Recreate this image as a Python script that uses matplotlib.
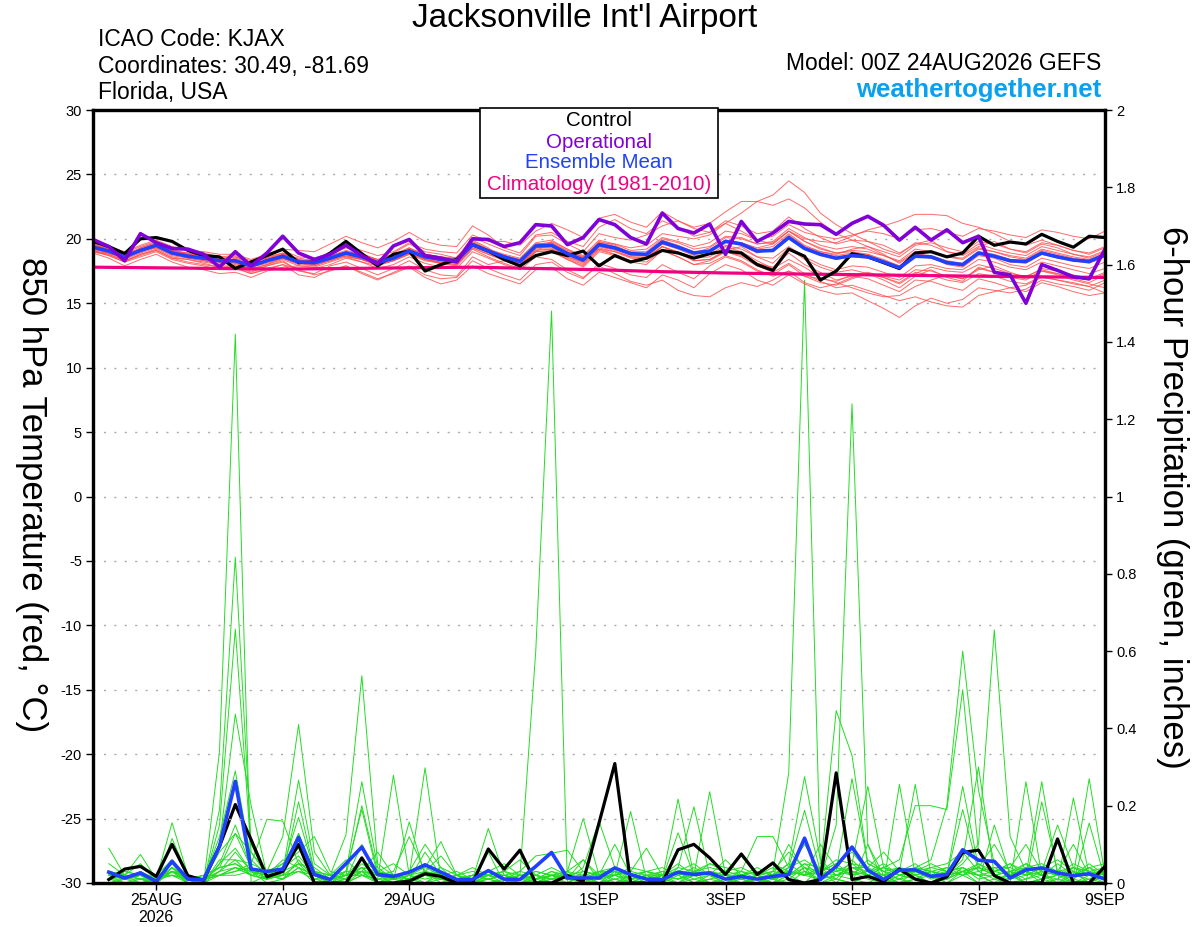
import pandas as pd
import matplotlib
matplotlib.use("Agg")
import matplotlib.pyplot as plt
from matplotlib.patches import Rectangle

plt.rcParams['font.family'] = ['Liberation Sans', 'DejaVu Sans']
plt.rcParams['axes.unicode_minus'] = False

# times: 6-hourly temperatures from 00Z 24AUG, precip totals from 06Z
t_temp = pd.date_range('2026-08-24 00:00', periods=65, freq='6h')
t_prcp = t_temp[1:]
t_clim = pd.date_range('2026-08-24', periods=17, freq='D')

clim_temp = [17.8, 17.75, 17.7, 17.65, 17.7, 17.75, 17.8, 17.7, 17.6,
             17.45, 17.35, 17.28, 17.22, 17.16, 17.1, 17.05, 17.0]

ctrl_temp = [19.8, 19.4, 18.85, 20.0, 20.1, 19.8, 19.1, 18.7, 18.6, 17.7, 18.2, 18.7, 19.2,
             18.15, 18.2, 18.9, 19.8, 18.85, 17.9, 18.8, 19.05, 17.5, 18.0, 18.4, 19.55, 19.05,
             18.4, 17.9, 18.7, 19.0, 18.7, 19.05, 17.9, 18.7, 18.2, 18.5, 19.1, 18.9, 18.5,
             18.85, 19.05, 18.9, 18.0, 17.55, 19.2, 18.65, 16.8, 17.5, 18.85, 18.6, 18.15, 17.7,
             18.9, 19.0, 18.6, 18.9, 20.2, 19.5, 19.75, 19.6, 20.35, 19.8, 19.35, 20.2, 20.1]

oper_temp = [19.95, 19.4, 18.3, 20.4, 19.7, 19.25, 19.2, 18.8, 17.8, 19.0, 17.9, 18.9, 20.2,
             18.9, 18.4, 18.8, 19.5, 18.7, 18.05, 19.45, 19.95, 18.7, 18.5, 18.2, 20.0, 19.95,
             19.4, 19.7, 21.1, 21.0, 19.55, 20.1, 21.5, 21.1, 20.1, 19.6, 22.0, 20.8, 20.45,
             21.15, 18.8, 21.35, 19.8, 20.45, 21.35, 21.15, 21.1, 20.35, 21.2, 21.75, 21.05, 19.9,
             20.9, 19.9, 20.7, 19.7, 20.2, 17.4, 17.2, 15.0, 18.0, 17.55, 17.05, 16.9, 19.2]

mean_temp = [19.35, 19.05, 18.6, 19.1, 19.5, 18.9, 18.65, 18.5, 18.3, 18.3, 17.9, 18.3, 18.65,
             18.2, 18.15, 18.5, 18.9, 18.6, 18.15, 18.5, 19.05, 18.6, 18.4, 18.3, 19.55, 19.05,
             18.6, 18.25, 19.45, 19.5, 18.85, 18.35, 19.55, 19.3, 18.85, 18.8, 19.75, 19.35, 18.9,
             19.05, 19.8, 19.6, 19.05, 19.1, 20.1, 19.25, 18.8, 18.5, 18.7, 18.6, 18.2, 17.75,
             18.65, 18.6, 18.15, 18.0, 18.9, 18.65, 18.3, 18.25, 18.9, 18.6, 18.35, 18.25, 18.75]

# ensemble members, 850 hPa temperature
temp_members = [
    [19.6, 19.2, 18.9, 19.4, 19.8, 19.1, 18.9, 18.6, 18.2, 18.5, 18.1, 18.6, 18.9,
     18.4, 18.0, 18.8, 19.3, 18.9, 18.3, 18.9, 19.6, 19.0, 18.8, 18.5, 20.1, 19.6,
     19.1, 18.7, 20.2, 20.3, 19.6, 19.0, 20.4, 20.1, 19.9, 20.3, 21.0, 21.4, 20.9,
     21.2, 22.1, 22.9, 22.9, 23.4, 24.5, 23.6, 22.0, 21.1, 20.4, 19.8, 19.5, 18.9,
     19.6, 19.9, 19.0, 18.7, 19.4, 19.8, 19.2, 18.9, 19.6, 19.3, 18.8, 18.5, 19.0],
    [19.0, 18.8, 18.3, 18.7, 19.1, 18.5, 18.2, 18.0, 17.8, 17.9, 17.4, 17.9, 18.2,
     17.6, 17.2, 17.5, 17.9, 17.4, 16.9, 17.3, 17.8, 17.0, 16.5, 16.8, 17.9, 17.3,
     16.9, 16.5, 17.6, 17.8, 16.9, 16.4, 17.4, 17.0, 16.6, 16.2, 17.2, 16.8, 16.2,
     17.3, 18.0, 17.6, 16.8, 16.4, 17.2, 16.5, 16.0, 15.7, 15.8, 15.2, 14.6, 13.9,
     14.8, 15.4, 15.0, 15.3, 16.2, 16.0, 15.8, 16.1, 16.8, 16.5, 16.3, 16.0, 16.6],
    [19.5, 19.3, 18.8, 19.0, 19.6, 19.2, 18.8, 18.9, 18.6, 18.1, 17.7, 18.0, 18.5,
     18.0, 18.4, 18.8, 18.6, 18.2, 17.9, 18.7, 19.3, 18.4, 18.1, 18.6, 19.9, 19.3,
     18.4, 18.0, 19.0, 19.8, 19.2, 18.5, 19.2, 18.8, 18.3, 18.6, 19.4, 18.9, 18.3,
     18.4, 19.1, 19.4, 18.6, 18.1, 19.3, 18.4, 17.8, 17.4, 17.6, 17.3, 16.8, 16.2,
     17.1, 17.6, 17.0, 16.7, 17.8, 17.4, 17.0, 16.8, 17.5, 17.3, 16.9, 16.6, 17.2],
    [19.2, 18.9, 18.5, 19.3, 19.7, 19.0, 18.8, 18.7, 18.6, 18.7, 18.3, 18.7, 19.1,
     18.6, 18.5, 18.9, 19.4, 19.1, 18.7, 19.0, 19.7, 19.2, 19.0, 18.9, 20.3, 19.8,
     19.8, 19.5, 20.6, 21.2, 20.7, 20.1, 21.6, 21.9, 21.3, 20.9, 22.1, 21.4, 20.8,
     20.5, 21.4, 21.0, 20.4, 20.6, 21.7, 20.8, 20.1, 19.6, 19.9, 19.8, 19.2, 18.8,
     19.7, 19.5, 19.0, 18.8, 19.6, 19.2, 18.9, 18.7, 19.4, 19.1, 18.8, 18.6, 19.1],
    [18.9, 18.5, 17.9, 18.4, 18.8, 18.2, 17.8, 17.6, 17.3, 17.4, 17.0, 17.5, 17.8,
     17.9, 17.8, 18.2, 18.6, 18.4, 18.0, 18.3, 18.8, 18.3, 18.1, 17.9, 19.2, 18.6,
     18.1, 17.7, 19.0, 19.1, 18.4, 17.8, 19.0, 18.7, 18.2, 18.0, 19.1, 18.6, 18.0,
     18.3, 19.0, 18.7, 18.1, 17.8, 18.9, 18.0, 17.4, 16.8, 17.1, 16.9, 16.4, 15.9,
     16.8, 16.7, 16.3, 16.0, 16.9, 16.6, 16.2, 15.9, 16.6, 16.3, 15.9, 15.6, 15.8],
    [19.7, 19.3, 18.9, 19.2, 19.6, 19.0, 18.9, 18.8, 18.5, 18.6, 18.2, 18.5, 18.8,
     18.5, 18.3, 18.7, 19.1, 18.8, 18.4, 18.8, 19.3, 18.8, 18.6, 18.4, 19.7, 19.2,
     18.8, 18.5, 19.7, 19.9, 19.2, 18.7, 19.9, 19.6, 19.1, 19.2, 20.1, 19.8, 19.4,
     19.7, 20.6, 20.4, 19.9, 20.2, 21.1, 20.5, 20.2, 20.0, 20.3, 20.6, 20.4, 20.0,
     20.7, 20.8, 20.5, 20.2, 20.8, 20.6, 20.3, 20.1, 20.7, 20.5, 20.2, 20.0, 20.6],
    [19.1, 18.7, 18.2, 18.6, 19.0, 18.4, 18.1, 17.9, 17.6, 17.8, 17.3, 17.7, 18.0,
     17.2, 17.0, 17.6, 17.9, 17.3, 16.8, 17.4, 17.9, 17.2, 16.9, 17.0, 18.3, 17.7,
     17.2, 16.8, 18.0, 18.2, 17.4, 16.9, 18.1, 17.7, 17.2, 17.0, 18.0, 17.4, 16.9,
     17.9, 18.6, 18.2, 17.5, 17.2, 18.0, 17.1, 16.6, 16.4, 16.9, 17.3, 17.0, 16.5,
     17.3, 17.8, 17.5, 17.4, 18.0, 17.7, 17.3, 17.1, 17.6, 17.3, 17.0, 16.8, 17.3],
    [19.3, 19.1, 18.7, 19.2, 19.4, 18.8, 18.7, 18.4, 18.4, 18.2, 18.0, 18.4, 18.7,
     18.3, 18.1, 18.4, 18.8, 18.5, 18.2, 18.6, 19.1, 18.7, 18.5, 18.2, 19.6, 19.0,
     18.7, 18.4, 19.5, 19.6, 19.0, 18.6, 19.7, 19.6, 19.3, 19.5, 20.4, 20.2, 20.0,
     20.3, 21.2, 22.0, 22.9, 22.6, 23.1, 22.4, 21.3, 20.4, 19.9, 19.4, 18.8, 18.1,
     18.9, 18.6, 18.0, 17.8, 18.7, 18.5, 18.0, 17.8, 18.5, 18.2, 17.9, 17.7, 18.2],
    [19.5, 19.0, 18.7, 19.0, 19.4, 18.9, 18.5, 18.3, 18.0, 18.3, 17.8, 18.2, 18.5,
     18.1, 18.0, 18.3, 18.7, 18.4, 18.0, 18.4, 18.9, 18.4, 18.2, 18.0, 19.3, 18.8,
     18.3, 18.0, 19.2, 19.2, 18.5, 18.0, 19.3, 19.0, 18.5, 18.4, 19.4, 19.0, 18.5,
     18.6, 19.4, 19.0, 18.3, 17.7, 18.4, 17.8, 17.0, 16.6, 16.2, 15.8, 15.5, 15.6,
     16.3, 16.8, 17.2, 16.9, 17.6, 17.9, 17.4, 17.0, 17.7, 17.5, 17.2, 16.9, 17.4],
    [19.6, 19.2, 18.6, 19.1, 19.6, 19.0, 18.7, 18.6, 18.4, 18.4, 18.0, 18.3, 18.6,
     18.2, 18.2, 18.6, 19.0, 18.7, 18.3, 18.6, 19.1, 18.6, 18.4, 18.3, 19.5, 19.0,
     18.6, 18.2, 19.4, 19.4, 18.8, 18.3, 19.5, 19.2, 18.8, 18.7, 19.7, 19.3, 18.8,
     19.0, 19.8, 19.6, 19.1, 19.0, 20.0, 19.2, 18.7, 18.4, 18.6, 18.5, 18.1, 17.6,
     18.6, 18.5, 18.1, 17.9, 18.8, 18.6, 18.2, 18.1, 18.8, 18.5, 18.3, 18.1, 18.6],
    [19.8, 19.4, 19.0, 19.5, 19.9, 19.4, 19.1, 19.0, 18.8, 18.8, 18.4, 18.8, 19.2,
     19.1, 19.0, 19.6, 20.2, 19.7, 19.3, 19.8, 20.5, 19.8, 19.5, 19.4, 21.0, 20.3,
     19.3, 18.9, 20.3, 20.5, 19.8, 19.4, 20.9, 21.5, 20.8, 20.4, 21.4, 20.9, 20.2,
     20.5, 21.2, 20.6, 19.9, 19.6, 20.6, 19.8, 19.2, 18.9, 19.1, 19.0, 18.7, 18.3,
     19.2, 19.0, 18.6, 18.5, 19.3, 19.0, 18.7, 18.5, 19.2, 18.9, 18.6, 18.4, 18.9],
    [19.0, 18.7, 18.2, 18.8, 19.2, 18.6, 18.4, 18.1, 17.8, 17.7, 17.3, 17.6, 18.0,
     17.7, 17.7, 18.0, 18.5, 18.2, 17.7, 18.0, 18.6, 18.1, 17.8, 17.7, 19.0, 18.5,
     18.0, 17.6, 18.6, 18.4, 17.6, 17.0, 17.9, 17.3, 16.7, 16.4, 16.8, 16.0, 15.6,
     15.5, 16.2, 16.6, 16.3, 16.8, 17.5, 17.1, 16.9, 16.7, 17.2, 17.4, 17.1, 16.8,
     17.6, 17.5, 17.1, 16.9, 17.7, 17.4, 17.1, 16.9, 17.5, 17.2, 16.8, 16.5, 16.2],
    [19.3, 18.9, 18.5, 19.0, 19.4, 18.8, 18.6, 18.4, 18.2, 18.1, 17.8, 18.1, 18.5,
     18.1, 17.9, 18.3, 18.7, 18.4, 18.0, 18.3, 18.8, 18.4, 18.1, 18.0, 19.3, 18.8,
     18.4, 18.0, 19.1, 19.2, 18.6, 18.1, 19.2, 19.0, 18.6, 18.6, 19.6, 19.3, 18.9,
     19.3, 20.1, 20.0, 19.6, 19.8, 20.8, 20.1, 19.5, 19.2, 19.4, 19.2, 18.7, 18.2,
     19.0, 19.0, 18.6, 18.4, 19.2, 19.0, 18.6, 18.4, 19.1, 18.8, 18.5, 18.3, 18.9],
    [19.4, 19.1, 18.6, 19.0, 19.5, 18.9, 18.7, 18.5, 18.3, 18.4, 18.0, 18.4, 18.7,
     18.3, 18.2, 18.5, 18.9, 18.6, 18.2, 18.5, 19.0, 18.6, 18.4, 18.3, 19.5, 19.0,
     18.6, 18.2, 19.3, 19.4, 18.7, 18.2, 19.4, 19.1, 18.6, 18.5, 19.4, 18.9, 18.3,
     18.4, 19.0, 18.6, 17.9, 17.4, 18.1, 17.3, 16.7, 16.2, 16.4, 16.0, 15.6, 15.2,
     15.5, 15.1, 14.8, 14.7, 15.6, 15.9, 16.2, 16.4, 17.0, 16.8, 16.6, 16.3, 16.8],
    [19.6, 19.1, 18.8, 19.2, 19.5, 19.0, 18.6, 18.6, 18.5, 18.2, 17.9, 18.4, 18.8,
     18.3, 18.3, 18.7, 19.0, 18.8, 18.4, 18.6, 19.2, 18.8, 18.6, 18.4, 19.8, 19.2,
     18.7, 18.3, 19.6, 19.7, 19.0, 18.5, 19.8, 19.5, 18.9, 18.8, 19.9, 19.5, 19.0,
     19.1, 19.9, 19.5, 18.9, 19.2, 20.3, 19.4, 19.0, 18.8, 19.2, 19.4, 19.0, 18.6,
     19.5, 19.7, 19.3, 19.0, 19.8, 19.6, 19.2, 19.0, 19.7, 19.5, 19.1, 18.9, 19.4],
    [19.2, 18.9, 18.4, 18.9, 19.3, 18.7, 18.5, 18.3, 18.1, 18.2, 17.8, 18.2, 18.6,
     18.1, 18.0, 18.4, 18.8, 18.5, 18.1, 18.4, 19.0, 18.5, 18.3, 18.2, 19.5, 19.0,
     18.5, 18.1, 19.3, 19.4, 18.8, 18.3, 19.5, 19.2, 18.8, 18.7, 19.7, 19.3, 18.9,
     19.0, 19.8, 19.7, 19.3, 19.6, 20.6, 20.0, 19.8, 19.7, 20.2, 20.7, 21.0, 21.4,
     21.9, 21.9, 21.8, 21.2, 20.9, 20.4, 19.8, 19.5, 19.9, 19.5, 19.1, 18.8, 19.3],
    [19.0, 18.9, 18.5, 19.1, 19.3, 18.8, 18.6, 18.4, 18.2, 18.0, 17.6, 18.0, 18.4,
     17.9, 17.9, 18.4, 18.8, 18.4, 17.9, 18.3, 18.9, 18.4, 18.2, 18.1, 19.4, 18.9,
     18.4, 18.1, 19.3, 19.3, 18.6, 18.2, 19.4, 19.2, 18.7, 18.7, 19.6, 19.2, 18.7,
     18.8, 19.5, 19.2, 18.6, 18.5, 19.4, 18.6, 18.0, 17.6, 17.9, 17.8, 17.4, 17.0,
     17.9, 18.0, 17.7, 17.6, 18.4, 18.2, 17.8, 17.6, 18.2, 17.9, 17.6, 17.3, 17.7],
    [19.5, 19.2, 18.7, 19.3, 19.7, 19.1, 18.8, 18.7, 18.4, 18.6, 18.1, 18.5, 18.9,
     18.4, 18.3, 18.6, 19.0, 18.7, 18.3, 18.7, 19.2, 18.8, 18.6, 18.5, 19.7, 19.1,
     18.7, 18.4, 19.6, 19.7, 19.1, 18.6, 19.7, 19.4, 19.0, 19.0, 20.0, 19.7, 19.2,
     19.4, 20.2, 20.1, 19.6, 19.7, 20.6, 19.8, 19.3, 18.9, 19.0, 18.8, 18.3, 17.9,
     18.7, 18.5, 18.2, 18.0, 18.9, 18.7, 18.3, 18.2, 18.9, 18.7, 18.4, 18.2, 18.8],
    [19.1, 18.8, 18.3, 18.8, 19.1, 18.5, 18.4, 18.2, 18.0, 17.9, 17.5, 17.9, 18.3,
     17.5, 17.3, 17.9, 18.2, 17.7, 17.2, 17.7, 18.3, 17.6, 17.2, 17.1, 18.6, 18.0,
     18.3, 17.9, 19.0, 19.0, 18.4, 17.9, 19.1, 18.8, 18.3, 18.2, 19.1, 18.6, 18.0,
     18.1, 18.7, 18.3, 17.6, 17.1, 17.5, 16.6, 16.2, 16.5, 17.0, 17.3, 17.0, 16.6,
     17.4, 17.2, 16.8, 16.6, 17.3, 17.1, 16.7, 16.5, 17.1, 16.8, 16.5, 16.3, 15.8],
    [19.4, 19.0, 18.6, 19.1, 19.6, 19.0, 18.7, 18.5, 18.4, 18.3, 17.9, 18.3, 18.7,
     18.2, 18.1, 18.5, 18.9, 18.6, 18.2, 18.5, 19.1, 18.6, 18.4, 18.3, 19.6, 19.1,
     18.6, 18.3, 19.5, 19.5, 18.9, 18.4, 19.6, 19.3, 18.9, 18.8, 19.8, 19.4, 18.9,
     19.1, 19.9, 19.7, 19.2, 19.4, 20.4, 19.5, 19.0, 18.7, 18.9, 18.8, 18.4, 17.9,
     18.8, 18.7, 18.3, 18.1, 19.0, 18.8, 18.4, 18.2, 18.9, 18.6, 18.4, 18.2, 18.7],
]

ctrl_prcp = [0.009, 0.036, 0.043, 0.017, 0.10, 0.019, 0.007, 0.095,
             0.203, 0.112, 0.016, 0.03, 0.10, 0, 0, 0,
             0.065, 0, 0, 0.005, 0.024, 0.017, 0, 0,
             0.088, 0.036, 0.085, 0, 0, 0.019, 0.004, 0.155,
             0.309, 0, 0, 0, 0.086, 0.10, 0.065, 0.022,
             0.075, 0.022, 0.052, 0.009, 0, 0.009, 0.285, 0.009,
             0.017, 0.004, 0.036, 0.01, 0, 0.016, 0.079, 0.085,
             0.019, 0, 0, 0, 0.114, 0, 0, 0.043]

mean_prcp = [0.028, 0.013, 0.026, 0.004, 0.056, 0.01, 0.009, 0.095,
             0.263, 0.036, 0.03, 0.036, 0.118, 0.022, 0.009, 0.05,
             0.093, 0.022, 0.017, 0.028, 0.047, 0.028, 0.009, 0.009,
             0.032, 0.01, 0.009, 0.043, 0.079, 0.013, 0.013, 0.013,
             0.039, 0.022, 0.01, 0.009, 0.028, 0.022, 0.026, 0.01,
             0.017, 0.01, 0.017, 0.022, 0.116, 0.009, 0.043, 0.093,
             0.033, 0.009, 0.033, 0.034, 0.017, 0.022, 0.086, 0.059,
             0.056, 0.013, 0.034, 0.039, 0.026, 0.019, 0.024, 0.01]

# ensemble members, 6-hour precipitation (inches)
prcp_members = [
    [0.02, 0.01, 0.03, 0, 0.04, 0.01, 0, 0.34, 1.42, 0, 0.02, 0.03, 0.05, 0.01, 0, 0.02,
     0.04, 0, 0, 0.01, 0.08, 0.02, 0, 0, 0, 0.01, 0, 0, 0.02, 0.01, 0.06, 0.01,
     0, 0.02, 0, 0, 0.03, 0, 0.01, 0, 0, 0.01, 0.02, 0.10, 0.03, 0, 0.01, 0,
     0.02, 0, 0.01, 0, 0, 0.02, 0.25, 0.04, 0.02, 0, 0, 0.21, 0.03, 0, 0.01, 0],
    [0.01, 0, 0, 0.01, 0.05, 0, 0, 0.02, 0.04, 0.02, 0.01, 0.02, 0.10, 0.02, 0, 0,
     0.02, 0, 0.01, 0, 0, 0.03, 0, 0.01, 0, 0, 0.02, 0.60, 1.48, 0, 0.02, 0,
     0.03, 0, 0, 0.01, 0, 0, 0.02, 0, 0, 0.01, 0, 0.02, 0, 0.04, 0.01, 0,
     0.10, 0, 0, 0, 0, 0.01, 0.03, 0.02, 0, 0.03, 0, 0, 0.01, 0, 0.155, 0.01],
    [0.03, 0.02, 0.01, 0, 0.03, 0.01, 0, 0.05, 0.09, 0.03, 0, 0.01, 0.04, 0, 0, 0.01,
     0.10, 0.02, 0, 0.01, 0, 0, 0.02, 0, 0.08, 0, 0, 0.01, 0.02, 0, 0, 0.03,
     0, 0.01, 0, 0.02, 0, 0.01, 0, 0, 0.01, 0, 0.03, 0.285, 1.56, 0.05, 0.02, 0.01,
     0, 0.02, 0, 0.01, 0, 0, 0.02, 0, 0.15, 0.02, 0, 0.01, 0, 0.03, 0, 0.02],
    [0, 0.01, 0.02, 0, 0.04, 0, 0.01, 0.08, 0.128, 0.04, 0.01, 0.03, 0.128, 0.02, 0, 0,
     0.03, 0, 0.01, 0.02, 0.298, 0.01, 0, 0, 0.02, 0, 0, 0, 0.01, 0.02, 0, 0,
     0.01, 0, 0.02, 0, 0, 0.03, 0, 0.01, 0, 0, 0.01, 0.03, 0.02, 0.01, 0.15, 1.24,
     0.10, 0.02, 0, 0.01, 0.02, 0, 0.03, 0, 0.01, 0, 0.262, 0.02, 0, 0.01, 0, 0],
    [0.02, 0, 0.01, 0.01, 0.05, 0.02, 0, 0.19, 0.843, 0.10, 0.02, 0.01, 0.06, 0.01, 0.01, 0.02,
     0.02, 0.01, 0.279, 0.02, 0, 0.01, 0, 0, 0.01, 0.02, 0, 0.01, 0, 0, 0.02, 0,
     0, 0.02, 0, 0.01, 0.217, 0.02, 0, 0.01, 0, 0.02, 0, 0.01, 0.04, 0, 0.02, 0.03,
     0.01, 0, 0.255, 0.02, 0, 0.01, 0.04, 0.02, 0, 0.01, 0.03, 0, 0, 0.22, 0.02, 0],
    [0.01, 0.01, 0.02, 0, 0.03, 0, 0, 0.15, 0.657, 0.08, 0.03, 0.02, 0.21, 0.03, 0, 0.01,
     0.05, 0.02, 0, 0.01, 0.03, 0, 0.01, 0, 0, 0.01, 0.02, 0, 0.01, 0.02, 0, 0.01,
     0.02, 0.185, 0.01, 0, 0.02, 0, 0.01, 0.02, 0.01, 0, 0.02, 0.05, 0.02, 0.03, 0, 0.05,
     0.02, 0.01, 0, 0.03, 0.01, 0.02, 0.06, 0.30, 0.02, 0, 0.01, 0.03, 0, 0.02, 0.01, 0.03],
    [0.02, 0.02, 0, 0.01, 0.02, 0.01, 0.01, 0.10, 0.437, 0.20, 0.02, 0.04, 0.07, 0.02, 0, 0,
     0.02, 0.01, 0.01, 0, 0.02, 0.04, 0, 0.01, 0.01, 0, 0.01, 0.02, 0, 0.03, 0, 0,
     0.02, 0, 0, 0.02, 0.01, 0.03, 0.02, 0, 0.02, 0.01, 0, 0.04, 0.10, 0.03, 0.446, 0.33,
     0.05, 0.03, 0.01, 0.02, 0, 0.03, 0.04, 0.01, 0.02, 0.01, 0.02, 0.262, 0.02, 0, 0.02, 0.01],
    [0.03, 0.01, 0.02, 0.01, 0.156, 0.02, 0, 0.06, 0.06, 0.05, 0.03, 0.12, 0.41, 0.08, 0.02, 0.01,
     0.03, 0, 0.02, 0.01, 0, 0.02, 0.01, 0, 0.02, 0.01, 0, 0, 0.02, 0.01, 0.01, 0,
     0.01, 0.02, 0.01, 0, 0.03, 0.02, 0.236, 0.02, 0, 0.02, 0.01, 0, 0.03, 0.01, 0.02, 0.04,
     0.02, 0, 0.02, 0.01, 0.03, 0.02, 0.19, 0.03, 0.01, 0.02, 0, 0.01, 0.02, 0.03, 0, 0.02],
    [0.01, 0.02, 0.01, 0, 0.04, 0.01, 0.02, 0.04, 0.05, 0.03, 0.02, 0.02, 0.05, 0.03, 0.02, 0.125,
     0.536, 0.05, 0.02, 0, 0.03, 0.02, 0, 0.02, 0.01, 0.02, 0.01, 0, 0.02, 0.03, 0.167, 0.02,
     0.01, 0, 0.02, 0.01, 0, 0.02, 0.03, 0.01, 0.02, 0.01, 0, 0.02, 0.05, 0.02, 0.01, 0.06,
     0.02, 0.01, 0.03, 0.255, 0.02, 0.01, 0.03, 0.02, 0.02, 0.03, 0.01, 0.02, 0.05, 0.02, 0.27, 0.02],
    [0.02, 0.01, 0.03, 0.01, 0.03, 0, 0.01, 0.12, 0.29, 0.06, 0.02, 0.05, 0.09, 0.02, 0.01, 0.02,
     0.06, 0.03, 0.01, 0.158, 0.02, 0.01, 0.02, 0, 0.01, 0, 0.02, 0.01, 0.03, 0.01, 0, 0.02,
     0.02, 0.03, 0.02, 0, 0.04, 0.197, 0.02, 0.01, 0.01, 0.02, 0.01, 0.03, 0.02, 0.04, 0.03, 0.02,
     0.03, 0.02, 0.01, 0.04, 0.06, 0.20, 0.60, 0.24, 0.05, 0.02, 0.03, 0.01, 0.02, 0.01, 0.04, 0.01],
    [0, 0.01, 0.02, 0.02, 0.06, 0.01, 0, 0.05, 0.15, 0.04, 0.01, 0.03, 0.266, 0.05, 0.02, 0.01,
     0.04, 0.01, 0, 0.02, 0.05, 0.03, 0.01, 0.02, 0.02, 0.01, 0, 0.02, 0.01, 0, 0.03, 0.02,
     0.10, 0.02, 0.01, 0.02, 0.03, 0.01, 0.02, 0, 0.02, 0.03, 0.02, 0.05, 0.275, 0.06, 0.02, 0.03,
     0.02, 0.04, 0.02, 0.01, 0.03, 0.02, 0.05, 0.10, 0.655, 0.12, 0.03, 0.02, 0.01, 0.04, 0.02, 0.03],
    [0.02, 0.02, 0.01, 0, 0.115, 0.02, 0.01, 0.03, 0.08, 0.03, 0.02, 0.01, 0.04, 0.02, 0, 0.03,
     0.262, 0.04, 0.01, 0.02, 0.04, 0.02, 0.01, 0.01, 0.02, 0.03, 0.01, 0.01, 0.02, 0.02, 0.01, 0.03,
     0.03, 0.01, 0.02, 0.02, 0.05, 0.02, 0.03, 0.02, 0.03, 0.01, 0.02, 0.04, 0.188, 0.03, 0.05, 0.08,
     0.03, 0.04, 0.06, 0.20, 0.20, 0.19, 0.50, 0.08, 0.03, 0.05, 0.02, 0.04, 0.03, 0.02, 0.05, 0.02],
    [0.01, 0.03, 0.02, 0.01, 0.02, 0.01, 0.02, 0.02, 0.03, 0.05, 0.165, 0.16, 0.05, 0.04, 0.01, 0.03,
     0.03, 0.02, 0.01, 0.03, 0.04, 0.107, 0.02, 0.01, 0.02, 0.01, 0.03, 0.02, 0.04, 0.02, 0.03, 0.02,
     0.04, 0.02, 0.03, 0.01, 0.13, 0.02, 0.05, 0.03, 0.02, 0.03, 0.01, 0.02, 0.04, 0.03, 0.06, 0.05,
     0.25, 0.04, 0.02, 0.03, 0.04, 0.05, 0.08, 0.03, 0.04, 0.02, 0.05, 0.03, 0.15, 0.04, 0.03, 0.02],
    [0.02, 0.01, 0, 0.01, 0.03, 0.02, 0.01, 0.04, 0.05, 0.02, 0.01, 0.04, 0.17, 0.03, 0.01, 0.02,
     0.20, 0.03, 0.02, 0.01, 0.02, 0.03, 0.01, 0.02, 0.03, 0.02, 0.01, 0.03, 0.02, 0.01, 0.04, 0.16,
     0.04, 0.01, 0.02, 0.03, 0.02, 0.04, 0.02, 0.01, 0.03, 0.02, 0.04, 0.02, 0.05, 0.04, 0.03, 0.27,
     0.05, 0.03, 0.04, 0.02, 0.03, 0.04, 0.02, 0.05, 0.03, 0.04, 0.10, 0.03, 0.02, 0.05, 0.03, 0.04],
    [0.09, 0.02, 0.074, 0.01, 0.04, 0.01, 0, 0.03, 0.06, 0.02, 0.01, 0.02, 0.03, 0.01, 0.02, 0.03,
     0.19, 0.02, 0.01, 0.02, 0.01, 0.02, 0.03, 0.01, 0.141, 0.02, 0.01, 0.02, 0.01, 0.03, 0.02, 0.01,
     0.02, 0.03, 0.09, 0.02, 0.01, 0.03, 0.02, 0.02, 0.01, 0.02, 0.03, 0.08, 0.04, 0.02, 0.03, 0.04,
     0.03, 0.02, 0.04, 0.03, 0.02, 0.03, 0.04, 0.02, 0.03, 0.02, 0.04, 0.05, 0.03, 0.10, 0.02, 0.03],
    [0.03, 0.01, 0.01, 0.02, 0.02, 0, 0.01, 0.02, 0.04, 0.03, 0.02, 0.01, 0.03, 0.02, 0.01, 0.01,
     0.03, 0.02, 0.03, 0.12, 0.03, 0.02, 0.01, 0.02, 0.01, 0.02, 0.03, 0.07, 0.077, 0.085, 0.03, 0.02,
     0.03, 0.02, 0.01, 0.03, 0.02, 0.03, 0.04, 0.03, 0.07, 0.02, 0.03, 0.02, 0.03, 0.02, 0.04, 0.03,
     0.02, 0.04, 0.03, 0.02, 0.04, 0.03, 0.02, 0.04, 0.10, 0.03, 0.02, 0.04, 0.03, 0.02, 0.04, 0.05],
    [0.02, 0.03, 0.02, 0.01, 0.03, 0.01, 0.01, 0.03, 0.04, 0.02, 0.03, 0.05, 0.08, 0.12, 0.03, 0.02,
     0.04, 0.03, 0.02, 0.03, 0.10, 0.04, 0.02, 0.01, 0.02, 0.03, 0.02, 0.01, 0.03, 0.02, 0.02, 0.03,
     0.02, 0.04, 0.03, 0.02, 0.04, 0.03, 0.05, 0.04, 0.03, 0.12, 0.12, 0.04, 0.06, 0.03, 0.02, 0.04,
     0.04, 0.08, 0.03, 0.04, 0.03, 0.02, 0.03, 0.04, 0.03, 0.05, 0.03, 0.04, 0.06, 0.03, 0.02, 0.03],
    [0.05, 0.02, 0.01, 0.01, 0.02, 0.01, 0.02, 0.04, 0.128, 0.08, 0.02, 0.03, 0.128, 0.03, 0.02, 0.06,
     0.02, 0.01, 0.02, 0.01, 0.02, 0.01, 0.02, 0.03, 0.02, 0.01, 0.02, 0.03, 0.02, 0.01, 0.02, 0.02,
     0.03, 0.02, 0.03, 0.04, 0.02, 0.03, 0.02, 0.06, 0.02, 0.03, 0.02, 0.03, 0.02, 0.04, 0.03, 0.05,
     0.04, 0.02, 0.03, 0.05, 0.02, 0.04, 0.03, 0.05, 0.02, 0.03, 0.05, 0.02, 0.03, 0.04, 0.02, 0.03],
    [0.02, 0.01, 0.02, 0, 0.03, 0.02, 0.01, 0.02, 0.03, 0.04, 0.02, 0.06, 0.04, 0.02, 0.01, 0.02,
     0.02, 0.03, 0.05, 0.02, 0.03, 0.07, 0.02, 0.04, 0.02, 0.03, 0.06, 0.02, 0.01, 0.02, 0.01, 0.03,
     0.04, 0.02, 0.01, 0.02, 0.03, 0.05, 0.02, 0.03, 0.04, 0.02, 0.05, 0.03, 0.02, 0.10, 0.04, 0.02,
     0.03, 0.05, 0.02, 0.03, 0.05, 0.03, 0.02, 0.03, 0.04, 0.04, 0.02, 0.03, 0.02, 0.04, 0.03, 0.02],
    [0.03, 0.02, 0.05, 0.01, 0.06, 0.01, 0.01, 0.02, 0.02, 0.03, 0.01, 0.02, 0.03, 0.02, 0.01, 0.02,
     0.03, 0.08, 0.02, 0.01, 0.02, 0.03, 0.01, 0.02, 0.03, 0.05, 0.02, 0.01, 0.02, 0.03, 0.06, 0.02,
     0.02, 0.01, 0.03, 0.02, 0.01, 0.02, 0.03, 0.02, 0.02, 0.04, 0.02, 0.03, 0.02, 0.03, 0.05, 0.02,
     0.06, 0.03, 0.02, 0.04, 0.03, 0.02, 0.03, 0.04, 0.02, 0.03, 0.04, 0.02, 0.03, 0.02, 0.04, 0.02],
]

temp_ticks = [30, 25, 20, 15, 10, 5, 0, -5, -10, -15, -20, -25, -30]
prcp_ticks = [0, 0.2, 0.4, 0.6, 0.8, 1, 1.2, 1.4, 1.6, 1.8, 2]
date_ticks = ['2026-08-25', '2026-08-27', '2026-08-29', '2026-09-01',
              '2026-09-03', '2026-09-05', '2026-09-07', '2026-09-09']
date_labels = ['25AUG\n2026', '27AUG', '29AUG', '1SEP', '3SEP', '5SEP', '7SEP', '9SEP']

RED = '#ff5050'
GREEN = '#22dd22'
PURPLE = '#8000d8'
BLUE = '#2040ff'
PINK = '#f00080'

fig = plt.figure(figsize=(12, 9.27), dpi=100)
ax = fig.add_axes([93/1200, 1-883/927, (1105-93)/1200, (883-110)/927])
ax2 = ax.twinx()
ax.set_zorder(ax2.get_zorder() + 1)
ax.patch.set_visible(False)

# precipitation on the right axis
for m in prcp_members:
    ax2.plot(t_prcp, m, color=GREEN, lw=0.7)
ax2.plot(t_prcp, ctrl_prcp, color='black', lw=2.3)
ax2.plot(t_prcp, mean_prcp, color=BLUE, lw=2.6)
ax2.set_ylim(0, 2)

# temperature on the left axis
for m in temp_members:
    ax.plot(t_temp, m, color=RED, lw=0.7, alpha=0.85)
ax.plot(t_clim, clim_temp, color=PINK, lw=2.3)
ax.plot(t_temp, ctrl_temp, color='black', lw=2.3)
ax.plot(t_temp, mean_temp, color=BLUE, lw=2.6)
ax.plot(t_temp, oper_temp, color=PURPLE, lw=2.6)
ax.set_ylim(-30, 30)
ax.set_xlim(t_temp[0], t_temp[-1])

ax.set_yticks(temp_ticks)
ax.set_yticklabels([str(v) for v in temp_ticks])
ax.grid(axis='y', color='#aaaaaa', lw=1.0, linestyle=(0, (1.5, 6)))
ax.set_xticks(pd.to_datetime(date_ticks))
ax.set_xticklabels(date_labels)
ax2.set_yticks(prcp_ticks)
ax2.set_yticklabels([('%g' % v) for v in prcp_ticks])

ax.tick_params(axis='y', direction='out', length=5, width=1, labelsize=10.5, pad=3)
ax.tick_params(axis='x', direction='out', length=5, width=1, labelsize=11.5, pad=2)
ax2.tick_params(axis='y', direction='out', length=5, width=1, labelsize=10.5, pad=3)
for a in (ax, ax2):
    for s in a.spines.values():
        s.set_linewidth(2.3)

# header texts
fig.text(585/1200, 1-18/927, "Jacksonville Int'l Airport", fontsize=24, ha='center', va='center')
fig.text(98/1200, 1-40/927, "ICAO Code: KJAX", fontsize=16.5, va='center')
fig.text(98/1200, 1-66/927, "Coordinates: 30.49, -81.69", fontsize=16.5, va='center')
fig.text(98/1200, 1-93/927, "Florida, USA", fontsize=16.5, va='center')
fig.text(1101/1200, 1-64/927, "Model: 00Z 24AUG2026 GEFS", fontsize=16.5, ha='right', va='center')
fig.text(1101/1200, 1-90/927, "weathertogether.net", fontsize=18.5, fontweight='bold',
         color='#0aa0f0', ha='right', va='center')

fig.text(31/1200, 1-495/927, "850 hPa Temperature (red, \u00b0C)", fontsize=25,
         rotation=-90, ha='center', va='center')
fig.text(1172/1200, 1-497/927, "6-hour Precipitation (green, inches)", fontsize=25,
         rotation=-90, ha='center', va='center')

# legend box
fig.add_artist(Rectangle((480/1200, 1-198/927), 238/1200, 90/927, transform=fig.transFigure,
                         facecolor='white', edgecolor='black', lw=1.2, zorder=5))
for label, col, yy in [("Control", 'black', 121), ("Operational", PURPLE, 142),
                       ("Ensemble Mean", BLUE, 163), ("Climatology (1981-2010)", PINK, 185)]:
    fig.text(599/1200, 1-yy/927, label, color=col, fontsize=14.8, ha='center', va='center', zorder=6)

fig.savefig('out.png', dpi=100)
